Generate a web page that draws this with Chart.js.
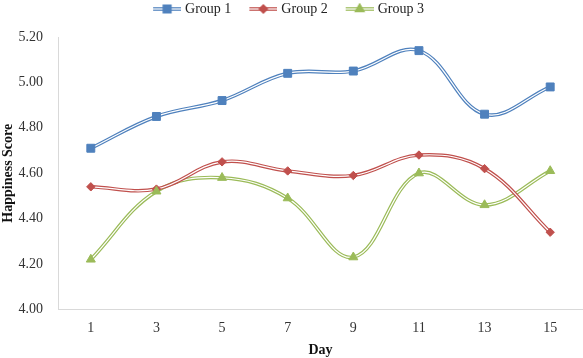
<!DOCTYPE html>
<html><head><meta charset="utf-8">
<script src="https://cdn.jsdelivr.net/npm/chart.js@4/dist/chart.umd.min.js"></script>
<style>html,body{margin:0;padding:0;background:#fff}#wrap{width:583px;height:358px;position:relative}</style>
</head><body><div id="wrap"><canvas id="c"></canvas></div>
<script>
const days = ['1','3','5','7','9','11','13','15'];
const group1 = [4.71,4.85,4.92,5.04,5.05,5.14,4.86,4.98];
const group2 = [4.54,4.53,4.65,4.61,4.59,4.68,4.62,4.34];
const group3 = [4.22,4.52,4.58,4.49,4.23,4.60,4.46,4.61];
const seriesNames = ['Group 1','Group 2','Group 3'];
const yMin = 4.0, yMax = 5.2, yStep = 0.2;

const colors = ['#4F81BD','#C0504D','#9BBB59'];
const markers = ['rect','rectRot','triangle'];
const radii = [5.6,4.2,5.2];
const seriesData = [group1, group2, group3];

function makeIcon(i){
  const cv = document.createElement('canvas');
  cv.width = 39; cv.height = 12;
  const ctx = cv.getContext('2d');
  const y = 6;
  ctx.lineCap = 'butt';
  ctx.strokeStyle = colors[i]; ctx.lineWidth = 3.6;
  ctx.beginPath(); ctx.moveTo(11,y); ctx.lineTo(39,y); ctx.stroke();
  ctx.strokeStyle = '#fff'; ctx.lineWidth = 1.2;
  ctx.beginPath(); ctx.moveTo(11,y); ctx.lineTo(39,y); ctx.stroke();
  ctx.fillStyle = colors[i]; ctx.strokeStyle = colors[i];
  Chart.helpers.drawPoint(ctx, {pointStyle: markers[i], radius: radii[i], borderWidth: 1, rotation: 0}, 25, y);
  return cv;
}

const legendGap = {
  id: 'legendGap',
  beforeLayout(chart){
    const lg = chart.legend;
    if (lg && !lg._gapPatched){
      const fit = lg.fit;
      lg.fit = function(){ fit.call(this); this.height += 11; };
      lg._gapPatched = true;
    }
  },
  afterLayout(chart){
    const lg = chart.legend;
    if (lg){ lg.left -= 7; lg.right -= 7; }
  }
};

const datasets = [];
seriesData.forEach((d, i) => {
  datasets.push({label: seriesNames[i], data: d, borderColor: colors[i], borderWidth: 3.6,
    pointRadius: 0, tension: 0.38, order: 10*(i+1)+2, fill: false});
  datasets.push({label: '', data: d, borderColor: '#ffffff', borderWidth: 1.2,
    pointRadius: 0, tension: 0.38, order: 10*(i+1)+1, fill: false});
  datasets.push({label: '', data: d, showLine: false, pointStyle: markers[i], pointRadius: radii[i],
    pointBackgroundColor: colors[i], pointBorderColor: colors[i], pointBorderWidth: 1, order: 3 - i});
});

const serif = "'Liberation Serif','Times New Roman',serif";

new Chart(document.getElementById('c'), {
  type: 'line',
  data: {labels: days, datasets},
  plugins: [legendGap],
  options: {
    responsive: true, maintainAspectRatio: false, animation: false,
    layout: {autoPadding: false, padding: {top: -8, right: 0, bottom: 1, left: 0}},
    plugins: {
      tooltip: {enabled: false},
      legend: {
        position: 'top',
        labels: {
          usePointStyle: true, pointStyleWidth: 33, padding: 10,
          color: '#222', font: {family: serif, size: 14},
          generateLabels: () => seriesNames.map((n, i) => ({
            text: n, pointStyle: makeIcon(i), fillStyle: 'transparent', strokeStyle: 'transparent',
            lineWidth: 0, hidden: false, datasetIndex: i*3, fontColor: '#222'
          }))
        }
      }
    },
    scales: {
      x: {
        offset: true,
        afterFit(scale){ scale.paddingRight = 0; scale.paddingLeft = 0; },
        grid: {display: false, drawTicks: false},
        border: {display: true, color: '#d9d9d9', width: 1},
        ticks: {color: '#333', font: {family: serif, size: 14}, padding: 11, maxRotation: 0},
        title: {display: true, text: 'Day', color: '#111', font: {family: serif, size: 14, weight: 'bold'}, padding: {top: -6.5, bottom: -1.5}}
      },
      y: {
        min: yMin, max: yMax,
        afterFit(scale){ scale.width = 58; },
        grid: {display: false, drawTicks: false},
        border: {display: true, color: '#d9d9d9', width: 1},
        ticks: {stepSize: yStep, color: '#333', font: {family: serif, size: 14}, padding: 15,
          callback: v => Number(v).toFixed(2)},
        title: {display: true, text: 'Happiness Score', color: '#111', font: {family: serif, size: 14, weight: 'bold'}, padding: 0}
      }
    }
  }
});
</script>
</body></html>
